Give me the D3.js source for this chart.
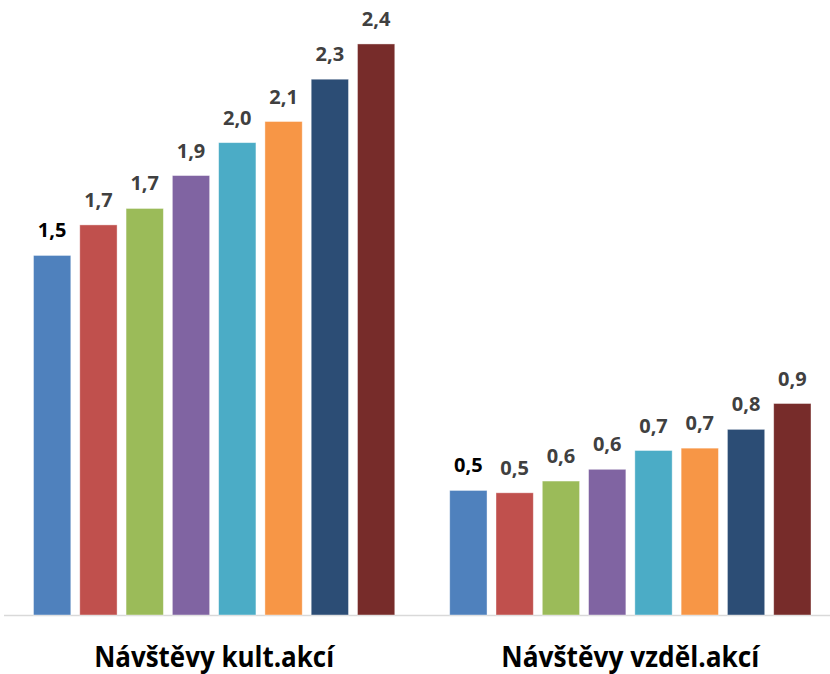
<html>
<head>
<meta charset="utf-8">
<title>Návštěvy</title>
<style>
  body { margin: 0; background: #fff; }
  .val { font-family: "Open Sans", sans-serif; font-weight: bold; font-size: 20px; }
  .cat { font-family: "Open Sans", sans-serif; font-weight: bold; font-size: 28px; fill: #000; }
</style>
</head>
<body>
<svg id="viz" width="830" height="674"></svg>

<script src="https://d3js.org/d3.v7.min.js"></script>
<script>

// categories on the x axis
var categories = ["Návštěvy kult.akcí", "Návštěvy vzděl.akcí"];
// 8 series per category (unnamed in the picture)
var series = ["s1", "s2", "s3", "s4", "s5", "s6", "s7", "s8"];
var kultValues  = [1.53, 1.66, 1.73, 1.87, 2.01, 2.10, 2.28, 2.43];
var vzdelValues = [0.53, 0.52, 0.57, 0.62, 0.70, 0.71, 0.79, 0.90];
var colors = ["#4F81BD", "#C0504D", "#9BBB59", "#8064A2", "#4BACC6", "#F79646", "#2C4D75", "#772C2A"];

var rows = [kultValues, vzdelValues];

var svg = d3.select("#viz");
var fmt = function(v) { return d3.format(".1f")(v).replace(".", ","); };

var x0 = d3.scaleBand().domain(categories).range([33.5, 811]).paddingInner(0.132).paddingOuter(0);
var x1 = d3.scaleBand().domain(series).range([0, x0.bandwidth()]).paddingInner(0.194).paddingOuter(0);
var y = d3.scaleLinear().domain([0, 2.6]).range([615, 4]);

// baseline
svg.append("line")
    .attr("x1", 4).attr("x2", 830)
    .attr("y1", y(0) + 0.5).attr("y2", y(0) + 0.5)
    .attr("stroke", "#d9d9d9")
    .attr("stroke-width", 1.5);

var group = svg.selectAll("g.grp")
    .data(categories)
    .enter().append("g")
    .attr("class", "grp")
    .attr("transform", function(d) { return "translate(" + x0(d) + ",0)"; });

group.selectAll("rect")
    .data(function(d, i) { return rows[i].map(function(v, j) { return {s: series[j], v: v, c: colors[j]}; }); })
    .enter().append("rect")
    .attr("x", function(d) { return x1(d.s); })
    .attr("width", x1.bandwidth())
    .attr("y", function(d) { return y(d.v); })
    .attr("height", function(d) { return y(0) - y(d.v); })
    .attr("fill", function(d) { return d.c; })
    .attr("stroke", "#ffffff")
    .attr("stroke-opacity", 0.5)
    .attr("stroke-width", 0.8);

group.selectAll("text.val")
    .data(function(d, i) { return rows[i].map(function(v, j) { return {s: series[j], v: v, j: j}; }); })
    .enter().append("text")
    .attr("class", "val")
    .attr("x", function(d) { return x1(d.s) + x1.bandwidth() / 2; })
    .attr("y", function(d) { return y(d.v) - 18; })
    .attr("text-anchor", "middle")
    .attr("fill", function(d) { return d.j == 0 ? "#000" : "#404040"; })
    .text(function(d) { return fmt(d.v); });

// category labels
svg.selectAll("text.cat")
    .data(categories)
    .enter().append("text")
    .attr("class", "cat")
    .attr("x", function(d) { return x0(d) + x0.bandwidth() / 2; })
    .attr("y", 667)
    .attr("text-anchor", "middle")
    .attr("textLength", function(d, i) { return i == 0 ? 240 : 258; })
    .attr("lengthAdjust", "spacingAndGlyphs")
    .text(function(d) { return d; });

</script>
</body>
</html>
